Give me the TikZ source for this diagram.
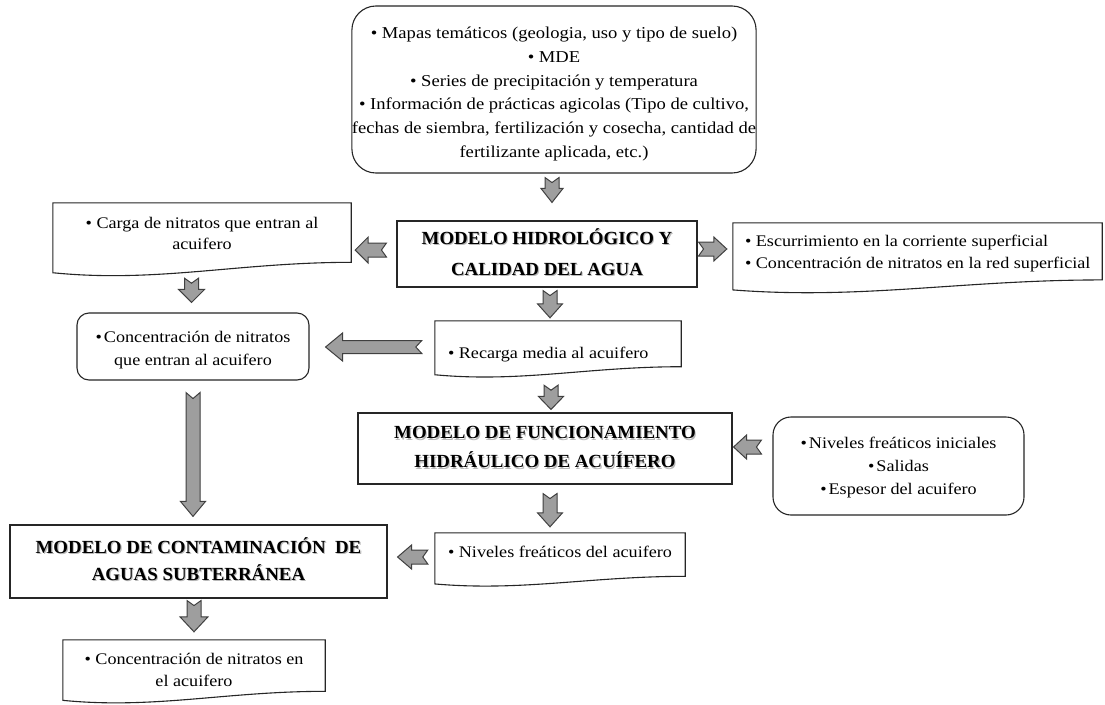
\documentclass[tikz,border=0pt]{standalone}
\usepackage{fontspec}
\setmainfont{Liberation Serif}[FakeStretch=1.12]
\newfontfamily\ttlfam{Liberation Serif}[FakeStretch=1.02]
\usetikzlibrary{calc}
\newcommand\txtfont{\fontsize{16.2}{22.5}\selectfont}
\newcommand\ttlfont{\ttlfam\bfseries\fontsize{18.5}{30}\selectfont}
\newcommand\lift[3]{\raisebox{#1}[0pt][0pt]{\begin{tabular}{@{}#2@{}}#3\end{tabular}}}
\newcommand\shd[1]{\leavevmode\rlap{\kern1.1pt\raisebox{-1.1pt}{\textcolor{black!28}{#1}}}#1}
\newcommand\docwave[1]{%
  \draw[boxline] let \p1=(#1.north west), \p2=(#1.south east), \n1={\x2-\x1}, \n2={\y1-\y2} in
    (\x1,{\y2+0.06*\n2}) -- (\x1,\y1) -- (\x2,\y1) -- (\x2,{\y2+0.2*\n2})
    .. controls ({\x1+0.62*\n1},{\y2+0.2*\n2}) and ({\x1+0.35*\n1},{\y2-0.08*\n2}) .. (\x1,{\y2+0.06*\n2}) -- cycle;}
% notched block arrow: from, to, shaft half width, head half width, head length, notch depth
\newcommand\notched[6]{%
  \coordinate (nhA) at ($(#2)!#5!(#1)$);
  \filldraw[garrow] ($(#1)!#3!90:(#2)$) -- ($(nhA)!#3!90:(#2)$) -- ($(nhA)!#4!90:(#2)$) -- (#2)
    -- ($(nhA)!#4!-90:(#2)$) -- ($(nhA)!#3!-90:(#2)$) -- ($(#1)!#3!-90:(#2)$) -- ($(#1)!#6!(#2)$) -- cycle;}
\tikzset{
  boxline/.style={draw=black!85, line width=1.1pt},
  plainbox/.style={boxline, rectangle, inner sep=0pt, font=\ttlfont},
  roundbox/.style={boxline, rectangle, rounded corners=#1, inner sep=0pt, font=\txtfont},
  roundbox/.default=15pt,
  docnode/.style={rectangle, inner sep=0pt, font=\txtfont},
  garrow/.style={fill=black!38, draw=black!75, line width=1pt, line join=miter}
}
\begin{document}
\begin{tikzpicture}[x=1pt,y=-1pt]
\fill[white] (0,0) rectangle (1105,704);
\useasboundingbox (0,0) rectangle (1105,704);

% boxes
\node[roundbox=24pt, minimum width=402pt, minimum height=167pt, font=\fontsize{16.6}{23.8}\selectfont] (top) at (554,89.5)
  {\lift{-8pt}{c}{• Mapas temáticos (geologia, uso y tipo de suelo)\\ • MDE\\ • Series de precipitación y temperatura\\
   • Información de prácticas agicolas (Tipo de cultivo,\\ fechas de siembra, fertilización y cosecha, cantidad de\\
   fertilizante aplicada, etc.)}};

\node[plainbox, minimum width=300pt, minimum height=66pt, font=\ttlfam\bfseries\fontsize{18.5}{31}\selectfont] (hidro) at (547,254)
  {\lift{-4pt}{c}{\shd{MODELO HIDROLÓGICO Y}\\ \shd{CALIDAD DEL AGUA}}};

\node[docnode, minimum width=298pt, minimum height=74pt, font=\fontsize{16.2}{21.5}\selectfont] (carga) at (202,240)
  {\lift{1pt}{c}{• Carga de nitratos que entran al\\ acuifero}};
\docwave{carga}

\node[docnode, minimum width=369pt, minimum height=71pt, font=\fontsize{16.2}{22}\selectfont] (esc) at (917.5,258.5)
  {\makebox[345pt][l]{\lift{1.5pt}{l}{• Escurrimiento en la corriente superficial\\ • Concentración de nitratos en la red superficial}}};
\docwave{esc}

\node[docnode, minimum width=246pt, minimum height=57pt] (rec) at (558,349.5)
  {\makebox[220pt][l]{\lift{-9pt}{l}{• Recarga media al acuifero}}};
\docwave{rec}

\node[roundbox=12pt, minimum width=232pt, minimum height=67pt, font=\fontsize{16.2}{23}\selectfont] (conc) at (193,346.5)
  {\lift{-7.5pt}{c}{•\kern2pt Concentración de nitratos\\ que entran al acuifero}};

\node[plainbox, minimum width=374pt, minimum height=71pt, font=\ttlfam\bfseries\fontsize{18.5}{29}\selectfont] (func) at (545,448.5)
  {\lift{-3.5pt}{c}{\shd{MODELO DE FUNCIONAMIENTO}\\ \shd{HIDRÁULICO DE ACUÍFERO}}};

\node[roundbox=18pt, minimum width=251pt, minimum height=98pt, font=\fontsize{16.2}{23}\selectfont] (ini) at (898.5,466)
  {\lift{-5pt}{c}{•\kern2pt Niveles freáticos iniciales\\ •\kern2pt Salidas\\ •\kern2pt Espesor del acuifero}};

\node[docnode, minimum width=250pt, minimum height=54pt] (nf) at (560,560)
  {\makebox[224pt][l]{\lift{3pt}{l}{• Niveles freáticos del acuifero}}};
\docwave{nf}

\node[plainbox, minimum width=377pt, minimum height=73pt, font=\ttlfam\bfseries\fontsize{18.5}{27}\selectfont] (cont) at (198.5,561.5)
  {\lift{-4pt}{c}{\shd{MODELO DE CONTAMINACIÓN\ \ DE}\\ \shd{AGUAS SUBTERRÁNEA}}};

\node[docnode, minimum width=262pt, minimum height=64pt, font=\fontsize{16.2}{22}\selectfont] (bot) at (194,672)
  {\lift{-3.5pt}{c}{• Concentración de nitratos en\\ el acuifero}};
\docwave{bot}

% arrow end points
\coordinate (a1) at ([xshift=-2pt,yshift=-4pt]top.south);
\coordinate (a2) at ([xshift=5pt,yshift=18pt]hidro.north);
\coordinate (b1) at ([xshift=-10pt,yshift=4pt]hidro.west);
\coordinate (b2) at ([xshift=4pt,yshift=-10pt]carga.east);
\coordinate (c1) at ([xshift=1pt,yshift=5pt]hidro.east);
\coordinate (c2) at ([xshift=-6pt,yshift=9.5pt]esc.west);
\coordinate (d1) at ([xshift=3pt,yshift=-3pt]hidro.south);
\coordinate (d2) at ([xshift=-8pt,yshift=3pt]rec.north);
\coordinate (e1) at ([xshift=-10.5pt,yshift=-1pt]carga.south);
\coordinate (e2) at ([xshift=-1.5pt,yshift=10pt]conc.north);
\coordinate (f1) at ([xshift=-13pt,yshift=2.5pt]rec.west);
\coordinate (f2) at ([xshift=16pt,yshift=-0.5pt]conc.east);
\coordinate (g1) at ([xshift=-7pt,yshift=-7pt]rec.south);
\coordinate (g2) at ([xshift=6pt,yshift=3pt]func.north);
\coordinate (h1) at ([xshift=-11pt,yshift=19pt]ini.west);
\coordinate (h2) at ([xshift=1pt,yshift=1.5pt]func.east);
\coordinate (i1) at ([xshift=5pt,yshift=-9pt]func.south);
\coordinate (i2) at ([xshift=-10pt,yshift=6pt]nf.north);
\coordinate (j1) at ([yshift=-12pt]conc.south);
\coordinate (j2) at ([xshift=-5.5pt,yshift=8pt]cont.north);
\coordinate (k1) at ([xshift=-7pt,yshift=3pt]nf.west);
\coordinate (k2) at ([xshift=10pt,yshift=4.5pt]cont.east);
\coordinate (l1) at ([xshift=-4.5pt,yshift=-2pt]cont.south);
\coordinate (l2) at ([yshift=8pt]bot.north);

% arrows
\notched{a1}{a2}{7pt}{11pt}{14pt}{5pt}
\notched{b1}{b2}{7pt}{13pt}{13pt}{5pt}
\notched{c1}{c2}{7pt}{12pt}{13pt}{5pt}
\notched{d1}{d2}{7pt}{12.5pt}{14pt}{5pt}
\notched{e1}{e2}{7pt}{13pt}{13pt}{5pt}
\notched{f1}{f2}{6.5pt}{14pt}{17pt}{6pt}
\notched{g1}{g2}{7pt}{12.5pt}{13pt}{5pt}
\notched{h1}{h2}{7pt}{12pt}{13pt}{5pt}
\notched{i1}{i2}{7pt}{12.5pt}{14pt}{5pt}
\notched{j1}{j2}{7pt}{12.5pt}{15pt}{6pt}
\notched{k1}{k2}{7pt}{12pt}{14pt}{5pt}
\notched{l1}{l2}{7pt}{14pt}{15pt}{5pt}
\end{tikzpicture}
\end{document}
